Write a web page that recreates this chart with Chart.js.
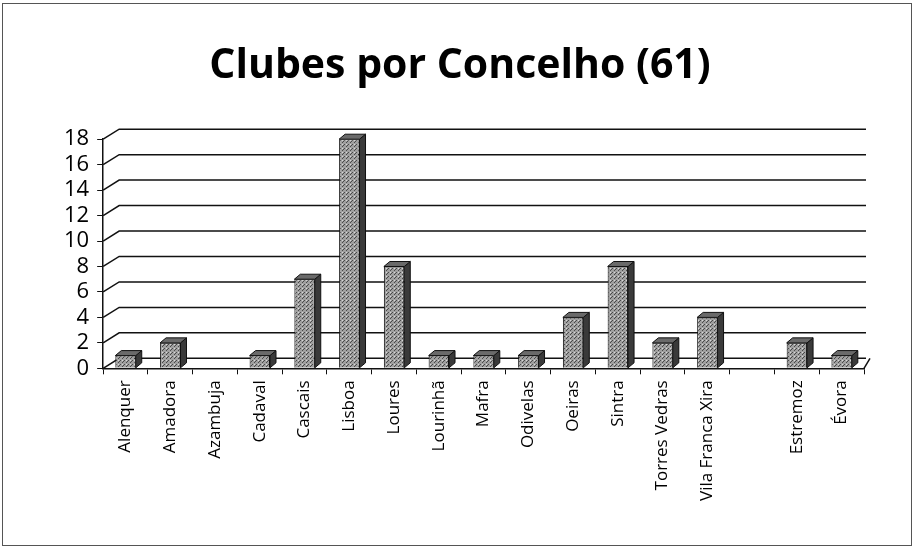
<!DOCTYPE html>
<html>
<head>
<meta charset="utf-8">
<script src="https://cdn.jsdelivr.net/npm/chart.js@4.4.0/dist/chart.umd.min.js"></script>
<style>
  html, body { margin: 0; padding: 0; background: #fff; }
  #frame {
    position: absolute; left: 2px; top: 3px; width: 910px; height: 543px;
    border: 1px solid #555; box-sizing: border-box;
  }
  #wrap { position: absolute; left: 0; top: 0; width: 916px; height: 560px; }
</style>
</head>
<body>
<div id="frame"></div>
<div id="wrap"><canvas id="clubesChart"></canvas></div>
<script>
// dados do gráfico
const concelhos = [
  "Alenquer", "Amadora", "Azambuja", "Cadaval", "Cascais", "Lisboa", "Loures",
  "Lourinhã", "Mafra", "Odivelas", "Oeiras", "Sintra", "Torres Vedras",
  "Vila Franca Xira", "", "Estremoz", "Évora",
];
const clubes = [1, 2, 0, 1, 7, 18, 8, 1, 1, 1, 4, 8, 2, 4, 0, 2, 1];
const yTicks = [0, 2, 4, 6, 8, 10, 12, 14, 16, 18];

const ctx = document.getElementById("clubesChart").getContext("2d");

// padrão pontilhado cinzento para as barras
function makePattern(base, dot) {
  const c = document.createElement("canvas");
  c.width = 4; c.height = 4;
  const p = c.getContext("2d");
  p.fillStyle = base;
  p.fillRect(0, 0, 4, 4);
  p.fillStyle = dot;
  p.fillRect(0, 0, 1, 1);
  p.fillRect(2, 2, 1, 1);
  p.fillRect(3, 1, 1, 1);
  p.fillStyle = "#d8d8d8";
  p.fillRect(2, 0, 1, 1);
  return ctx.createPattern(c, "repeat");
}

// parede do fundo: grelha deslocada em perspetiva
const DX = 16, DY = -10;
const backWall = {
  id: "backWall",
  beforeDatasetsDraw(chart) {
    const c = chart.ctx;
    const y = chart.scales.y;
    const { left, right } = chart.chartArea;
    c.save();
    c.strokeStyle = "#111";
    c.lineWidth = 1.5;
    y.ticks.forEach((t) => {
      const py = y.getPixelForValue(t.value);
      c.beginPath();
      c.moveTo(left, py);
      c.lineTo(left + DX, py + DY);
      c.lineTo(right + 2, py + DY);
      c.stroke();
    });
    // canto direito do chão
    const by = y.getPixelForValue(0);
    c.beginPath();
    c.moveTo(right, by);
    c.lineTo(right + DX - 10, by + DY);
    c.stroke();
    c.restore();
  },
};

// efeito 3D simples: topo e lado direito de cada barra
const bar3d = {
  id: "bar3d",
  afterDatasetsDraw(chart) {
    const c = chart.ctx;
    const dx = 6, dy = -5;
    chart.getDatasetMeta(0).data.forEach((bar, i) => {
      if (!clubes[i]) return;
      const half = bar.width / 2;
      const l = bar.x - half, r = bar.x + half, t = bar.y, b = bar.base;
      c.save();
      c.strokeStyle = "#111";
      c.lineWidth = 1;
      c.beginPath();
      c.moveTo(r, t); c.lineTo(r + dx, t + dy); c.lineTo(r + dx, b + dy); c.lineTo(r, b);
      c.closePath();
      c.fillStyle = "#3a3a3a";
      c.fill(); c.stroke();
      c.beginPath();
      c.moveTo(l, t); c.lineTo(l + dx, t + dy); c.lineTo(r + dx, t + dy); c.lineTo(r, t);
      c.closePath();
      c.fillStyle = "#6a6a6a";
      c.fill(); c.stroke();
      c.restore();
    });
  },
};

new Chart(ctx, {
  type: "bar",
  data: {
    labels: concelhos,
    datasets: [
      {
        label: "Clubes",
        data: clubes,
        backgroundColor: makePattern("#a0a0a0", "#4a4a4a"),
        borderColor: "#111",
        borderWidth: 1,
        barPercentage: 0.48,
        categoryPercentage: 0.95,
      },
    ],
  },
  options: {
    responsive: true,
    maintainAspectRatio: false,
    animation: false,
    layout: { padding: { left: 56, right: 52, top: 20, bottom: 53 } },
    scales: {
      y: {
        min: 0,
        max: 18,
        afterBuildTicks: (axis) => { axis.ticks = yTicks.map((v) => ({ value: v })); },
        grid: { drawOnChartArea: false, color: "#111", tickLength: 6 },
        border: { color: "#111", width: 1.5 },
        ticks: {
          color: "#000",
          font: { family: "Open Sans", size: 22 },
          padding: 8,
          autoSkip: false,
        },
      },
      x: {
        grid: { display: true, drawOnChartArea: false, color: "#111", tickLength: 6 },
        border: { color: "#111", width: 1.5 },
        ticks: {
          color: "#000",
          font: { family: "Open Sans", size: 17 },
          minRotation: 90,
          maxRotation: 90,
          autoSkip: false,
          padding: 6,
        },
      },
    },
    plugins: {
      legend: { display: false },
      tooltip: { enabled: false },
      title: {
        display: true,
        text: "Clubes por Concelho (61)",
        color: "#000",
        font: { family: "Open Sans", size: 41, weight: "bold" },
        padding: { top: 22, bottom: 48 },
      },
    },
  },
  plugins: [backWall, bar3d],
});
</script>
</body>
</html>
